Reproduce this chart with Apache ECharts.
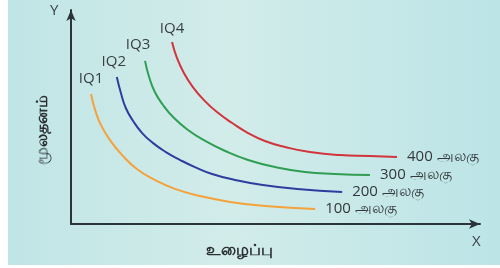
<!DOCTYPE html>
<html>
<head>
<meta charset="utf-8">
<script src="https://cdn.jsdelivr.net/npm/echarts@6/dist/echarts.min.js"></script>
<style>
  html, body { margin: 0; padding: 0; background: #fff; }
  #chart { width: 500px; height: 268px; }
</style>
</head>
<body>
<div id="chart"></div>
<script>
// isoquant curves (x = labour, y = capital, 0..100 units)
const iq1 = [[4.9,60.7],[5.9,53.3],[7.3,46.3],[9.5,39.3],[12.5,32.2],[16.1,25.7],[20.5,20.6],[25.4,16.4],[31.5,13.1],[38.9,10.3],[47.4,8.4],[59.7,7.0]];
const iq2 = [[11.2,68.7],[12.2,61.2],[13.4,54.2],[15.2,48.1],[17.4,42.5],[20.0,37.9],[23.2,33.6],[26.7,29.9],[30.3,26.6],[34.5,23.4],[40.1,20.6],[46.9,18.2],[55.3,16.4],[66.3,15.0]];
const iq3 = [[18.1,76.2],[19.1,68.7],[20.5,61.7],[22.5,55.6],[25.2,49.5],[28.6,43.9],[32.8,38.8],[37.7,34.1],[43.3,29.9],[49.9,26.6],[57.2,24.3],[64.5,23.4],[73.1,22.9]];
const iq4 = [[24.7,85.0],[25.9,77.6],[27.6,70.6],[29.8,64.0],[32.5,57.9],[35.7,52.3],[39.4,47.2],[43.3,42.5],[47.4,38.8],[52.3,36.0],[58.4,33.6],[65.8,32.2],[73.1,31.8],[79.7,31.3]];

const curveNames = ['IQ1', 'IQ2', 'IQ3', 'IQ4'];
const unitLabels = ['100 அலகு', '200 அலகு', '300 அலகு', '400 அலகு'];
const axisLetters = ['X', 'Y'];
const axisTitles = ['உழைப்பு', 'மூலதனம்'];

const colors = ['#f4a23c', '#2f3e9e', '#2f9e52', '#d2343c'];
const nameOffsets = [[0, -2], [-3, -2], [-7, -3], [0, 0]];
const curves = [iq1, iq2, iq3, iq4];

const chart = echarts.init(document.getElementById('chart'));

const series = curves.map(function (pts, i) {
  const data = pts.map(function (p, j) {
    if (j === 0) {
      return {
        value: p,
        label: {
          show: true,
          position: 'top',
          formatter: curveNames[i],
          offset: nameOffsets[i],
          distance: 6,
          color: '#3a3f44',
          fontSize: 15,
          fontFamily: 'Open Sans'
        }
      };
    }
    return p;
  });
  return {
    type: 'line',
    data: data,
    smooth: 0.5,
    symbol: 'circle',
    symbolSize: 0,
    showSymbol: true,
    lineStyle: { color: colors[i], width: 2 },
    itemStyle: { color: colors[i] },
    endLabel: {
      show: true,
      formatter: unitLabels[i],
      distance: 10,
      color: '#33383c',
      fontSize: 15,
      fontFamily: 'Open Sans'
    },
    z: 3
  };
});

chart.setOption({
  animation: false,
  backgroundColor: '#ffffff',
  grid: { left: 71, right: 20, top: 10, bottom: 44 },
  xAxis: {
    type: 'value', min: 0, max: 100,
    axisLine: { lineStyle: { color: '#2b3438', width: 2 }, symbol: ['none', 'arrow'], symbolSize: [7, 11] },
    axisTick: { show: false }, axisLabel: { show: false }, splitLine: { show: false }
  },
  yAxis: {
    type: 'value', min: 0, max: 100,
    axisLine: { show: true, lineStyle: { color: '#2b3438', width: 2 }, symbol: ['none', 'arrow'], symbolSize: [7, 11] },
    axisTick: { show: false }, axisLabel: { show: false }, splitLine: { show: false }
  },
  graphic: [
    {
      type: 'rect', z: -10, silent: true,
      shape: { x: 8, y: 0, width: 492, height: 265 },
      style: {
        fill: new echarts.graphic.LinearGradient(0, 0, 1, 0, [
          { offset: 0, color: '#c0e5e6' },
          { offset: 0.45, color: '#d2ece9' },
          { offset: 1, color: '#bce4e7' }
        ])
      }
    },
    {
      type: 'text', left: 472, top: 234,
      style: { text: axisLetters[0], fill: '#3a3f44', font: '15px "Open Sans"' }
    },
    {
      type: 'text', left: 50, top: 3,
      style: { text: axisLetters[1], fill: '#3a3f44', font: '15px "Open Sans"' }
    },
    {
      type: 'text', x: 239, y: 250,
      style: { text: axisTitles[0], fill: '#2b3034', font: 'bold 16px "Noto Sans"', align: 'center', verticalAlign: 'middle' }
    },
    {
      type: 'text', x: 42, y: 130, rotation: Math.PI / 2,
      style: { text: axisTitles[1], fill: '#2b3034', font: 'bold 16px "Noto Sans"', align: 'center', verticalAlign: 'middle' }
    }
  ],
  series: series
});
</script>
</body>
</html>
